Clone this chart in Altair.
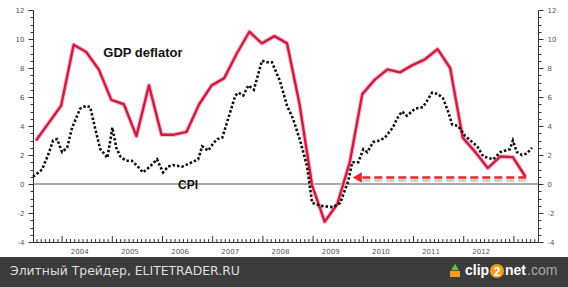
import altair as alt
import pandas as pd

# ---------------- data ----------------
# GDP deflator, quarterly, 2003Q2 .. 2013Q1 (% y/y)
gdp_quarters = [(y, q) for y in range(2003, 2014) for q in range(1, 5)][1:41]
gdp_values = [3.0, 4.2, 5.4, 9.6, 9.1, 7.9, 5.8, 5.5, 3.3, 6.8,
              3.4, 3.4, 3.6, 5.5, 6.8, 7.3, 9.0, 10.5, 9.7, 10.2,
              9.7, 5.5, -0.1, -2.6, -1.4, 1.5, 6.2, 7.2, 7.9, 7.7,
              8.2, 8.6, 9.3, 8.0, 3.2, 2.2, 1.1, 1.9, 1.85, 0.5]

# CPI (decimal year, % y/y)
cpi_t = [2003.42, 2003.60, 2003.72, 2003.82, 2003.90, 2004.00, 2004.10, 2004.20, 2004.36, 2004.48,
         2004.56, 2004.66, 2004.76, 2004.86, 2004.90, 2004.96, 2005.00, 2005.08, 2005.16, 2005.27,
         2005.39, 2005.51, 2005.61, 2005.75, 2005.89, 2006.01, 2006.11, 2006.21, 2006.39, 2006.59,
         2006.71, 2006.79, 2006.91, 2007.01, 2007.09, 2007.19, 2007.29, 2007.45, 2007.51, 2007.61,
         2007.71, 2007.82, 2007.98, 2008.08, 2008.18, 2008.34, 2008.48, 2008.60, 2008.74, 2008.88,
         2008.98, 2009.14, 2009.40, 2009.54, 2009.70, 2009.78, 2009.90, 2010.00, 2010.08, 2010.20,
         2010.33, 2010.43, 2010.59, 2010.67, 2010.77, 2010.87, 2011.03, 2011.19, 2011.37, 2011.49,
         2011.59, 2011.69, 2011.77, 2011.89, 2012.03, 2012.27, 2012.39, 2012.59, 2012.73, 2012.82,
         2012.92, 2012.98, 2013.06, 2013.16, 2013.26, 2013.36]
cpi_values = [0.5, 1.0, 2.0, 3.0, 3.1, 2.2, 2.5, 3.9, 5.2, 5.4,
              5.3, 3.8, 2.4, 2.0, 1.8, 3.0, 3.9, 2.5, 1.9, 1.6,
              1.6, 1.2, 0.8, 1.2, 1.7, 0.8, 1.2, 1.3, 1.2, 1.5,
              1.7, 2.6, 2.3, 2.8, 3.1, 3.2, 4.3, 6.1, 6.3, 6.1,
              6.8, 6.5, 8.5, 8.4, 8.4, 7.1, 5.4, 4.5, 3.0, 1.2,
              -1.3, -1.5, -1.6, -1.3, 0.2, 1.5, 1.5, 2.4, 2.2, 2.9,
              3.0, 3.2, 3.9, 4.5, 5.0, 4.7, 5.2, 5.3, 6.3, 6.2,
              5.9, 5.0, 4.1, 4.0, 3.3, 2.6, 1.9, 1.7, 2.2, 2.3,
              2.4, 3.0, 2.2, 2.0, 2.1, 2.5]

year_labels = [2004, 2005, 2006, 2007, 2008, 2009, 2010, 2011, 2012]
y_tick_values = [v / 2 for v in range(-8, 25)]

# arrow annotation (decimal years, value)
arrow_start, arrow_end, arrow_level, arrow_tip = 2009.98, 2013.26, 0.45, 2009.88

# ---------------- frames ----------------
gdp_df = pd.DataFrame({"t": [round(y + q / 4 - 0.02, 3) for y, q in gdp_quarters],
                       "v": gdp_values})
cpi_df = pd.DataFrame({"t": cpi_t, "v": cpi_values})
month_ticks = pd.DataFrame(
    [{"t": y + m / 12, "y0": -4, "y1": -4 + (0.42 if m == 0 else 0.2)}
     for y in range(2003, 2014) for m in range(12)
     if 2003.42 <= y + m / 12 <= 2013.48]
)

xscale = alt.Scale(domain=[2003.42, 2013.48], nice=False, zero=False)
yscale = alt.Scale(domain=[-4, 12], nice=False, zero=False)

axis_common = dict(labelFont="DejaVu Sans", labelFontSize=7, labelColor="#555",
                   domainColor="#333", tickColor="#333", grid=False, title=None)

xaxis = alt.Axis(values=[y + 0.34 for y in year_labels],
                 labelExpr="'' + floor(datum.value)", ticks=False, labelPadding=5,
                 labelFlush=False, **axis_common)


def yaxis(orient):
    return alt.Axis(orient=orient, values=y_tick_values,
                    labelExpr="datum.value % 2 === 0 ? '' + datum.value : ''",
                    tickSize={"condition": {"test": "datum.value % 2 === 0", "value": 5}, "value": 3},
                    labelPadding=4, labelFlush=False, **axis_common)


def X(field="t"):
    return alt.X(f"{field}:Q", scale=xscale, axis=xaxis, title=None)


def Y(field="v"):
    return alt.Y(f"{field}:Q", scale=yscale, axis=yaxis("left"), title=None)


one = pd.DataFrame({"a": [0]})

glow = alt.Chart(gdp_df).mark_line(color="#f4c0cc", strokeWidth=4.6, strokeJoin="round").encode(x=X(), y=Y())
gdp_line = alt.Chart(gdp_df).mark_line(color="#cf1b42", strokeWidth=2.4, strokeJoin="round").encode(x=X(), y=Y())
cpi_line = alt.Chart(cpi_df).mark_line(color="#111111", strokeWidth=2.6, strokeDash=[2.5, 2]).encode(x=X(), y=Y())

ticks = alt.Chart(month_ticks).mark_rule(color="#333", strokeWidth=1).encode(
    x=X(), y=Y("y0"), y2="y1:Q")

arrow_df = pd.DataFrame({"t1": [arrow_start], "t2": [arrow_end], "v": [arrow_level],
                         "vs": [arrow_level - 0.2], "tip": [arrow_tip]})
arrow_shadow = alt.Chart(arrow_df).mark_rule(color="#cccccc", strokeWidth=2.5, strokeDash=[8, 4]).encode(
    x=X("t1"), x2="t2:Q", y=Y("vs"))
arrow_line = alt.Chart(arrow_df).mark_rule(color="#e8242a", strokeWidth=2.5, strokeDash=[8, 4]).encode(
    x=X("t1"), x2="t2:Q", y=Y("v"))
arrow_head = alt.Chart(arrow_df).mark_point(shape="triangle-left", filled=True, size=110,
                                            color="#e8242a", opacity=1).encode(x=X("tip"), y=Y("v"))

labels_df = pd.DataFrame({"t": [2005.61, 2006.51], "v": [9.03, -0.05],
                          "txt": ["GDP deflator", "CPI"]})
gdp_text = alt.Chart(labels_df.iloc[[0]]).mark_text(font="Liberation Sans", fontWeight="bold",
                                                    fontSize=13, color="#111").encode(
    x=X(), y=Y(), text="txt:N")
cpi_text = alt.Chart(labels_df.iloc[[1]]).mark_text(font="Liberation Sans", fontWeight="bold",
                                                    fontSize=12, color="#111").encode(
    x=X(), y=Y(), text="txt:N")

# footer band (decoration, outside the plot area; coordinates relative to plot origin)
footer_bg = alt.Chart(one).mark_rect(color="#3c3c3c").encode(
    x=alt.value(-33), x2=alt.value(535), y=alt.value(247), y2=alt.value(277))
footer_txt = alt.Chart(one).mark_text(align="left", baseline="middle", font="DejaVu Sans",
                                      fontSize=12.4, color="#dedede").encode(
    x=alt.value(-23), y=alt.value(261), text=alt.value("Элитный Трейдер, ELITETRADER.RU"))
logo_arrow = alt.Chart(one).mark_point(shape="triangle-up", filled=True, size=60, color="#6cc04a", opacity=1).encode(
    x=alt.value(422), y=alt.value(257))
logo_box = alt.Chart(one).mark_rect(color="#f39c1e").encode(
    x=alt.value(417), x2=alt.value(427), y=alt.value(261), y2=alt.value(267))
logo_clip = alt.Chart(one).mark_text(align="left", baseline="middle", font="Liberation Sans",
                                     fontWeight="bold", fontSize=14, color="#ffffff").encode(
    x=alt.value(432), y=alt.value(261), text=alt.value("clip"))
logo_circle = alt.Chart(one).mark_point(shape="circle", filled=True, size=200, color="#f39c1e", opacity=1).encode(
    x=alt.value(464), y=alt.value(261))
logo_two = alt.Chart(one).mark_text(align="center", baseline="middle", font="Liberation Sans",
                                    fontWeight="bold", fontSize=12, color="#ffffff").encode(
    x=alt.value(464), y=alt.value(261.5), text=alt.value("2"))
logo_net = alt.Chart(one).mark_text(align="left", baseline="middle", font="Liberation Sans",
                                    fontWeight="bold", fontSize=14, color="#ffffff").encode(
    x=alt.value(472), y=alt.value(261), text=alt.value("net"))
logo_com = alt.Chart(one).mark_text(align="left", baseline="middle", font="Liberation Sans",
                                    fontSize=14, color="#a8a8a8").encode(
    x=alt.value(494), y=alt.value(261), text=alt.value(".com"))

zero_line = alt.Chart(pd.DataFrame({"v": [0]})).mark_rule(color="#555", strokeWidth=1).encode(
    y=alt.Y("v:Q", scale=yscale, axis=yaxis("right"), title=None))

main = alt.layer(ticks, glow, gdp_line, cpi_line, arrow_shadow, arrow_line, arrow_head,
                 gdp_text, cpi_text, footer_bg, footer_txt, logo_arrow, logo_box, logo_clip,
                 logo_circle, logo_two, logo_net, logo_com)

chart = alt.layer(zero_line, main).resolve_scale(y="independent").properties(
    width=505, height=232,
    autosize=alt.AutoSizeParams(type="none"),
    padding={"left": 33, "top": 10, "right": 30, "bottom": 45},
    background="white",
).configure_view(stroke=None)

chart.save("out.html", embed_options={"renderer": "svg", "actions": False})
